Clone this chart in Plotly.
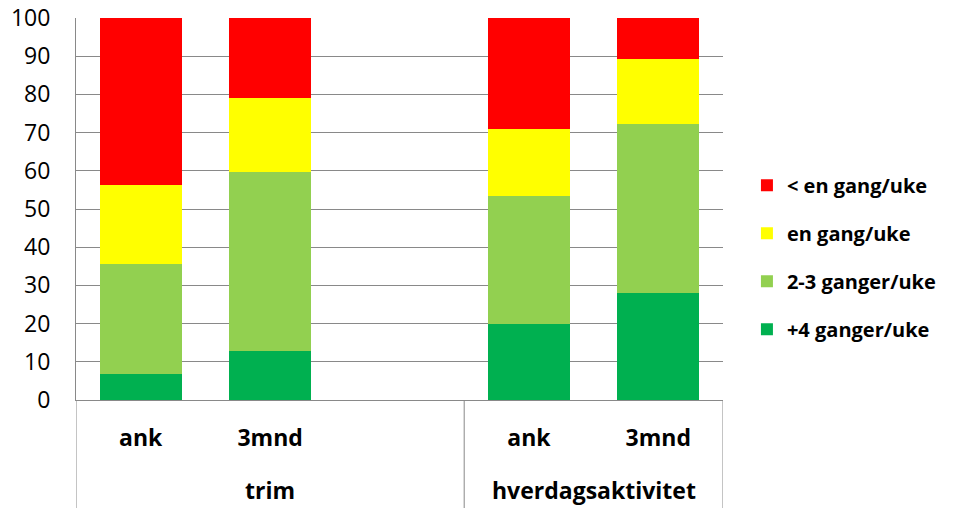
import plotly.graph_objects as go

groups = ["trim", "trim", "trim", "hverdagsaktivitet", "hverdagsaktivitet"]
times = ["ank", "3mnd", "", "ank", "3mnd"]
group_names = ["trim", "hverdagsaktivitet"]

series_names = ["+4 ganger/uke", "2-3 ganger/uke", "en gang/uke", "< en gang/uke"]
plus4 = [6.7, 12.7, None, 19.9, 27.9]
two3 = [28.9, 47.0, None, 33.6, 44.4]
once = [20.6, 19.4, None, 17.4, 17.0]
less = [43.8, 20.9, None, 29.1, 10.7]
colors = ["#00B050", "#92D050", "#FFFF00", "#FF0000"]

FONT = "Open Sans"
GRID = "#898989"
xs = list(range(len(times)))

fig = go.Figure()
n = len(series_names)
for i, (name, vals, c) in enumerate(zip(series_names, [plus4, two3, once, less], colors)):
    fig.add_trace(go.Bar(x=xs, y=vals, name=name, marker_color=c, marker_line_width=0,
                         legendgroup=name, legendrank=n - i))

# group spans derived from categories
spans = {}
for i, g in enumerate(groups):
    spans.setdefault(g, [i, i])
    spans[g][1] = i

# divider lines below the axis (left edge, group boundaries, right edge)
boundaries = sorted({spans[g][0] - 0.5 for g in group_names} | {spans[g][1] + 0.5 for g in group_names})
for b in boundaries:
    fig.add_shape(type="line", xref="x", yref="paper", x0=b, x1=b, y0=0, y1=-0.3,
                  line=dict(color=GRID, width=1))

for g in group_names:
    a, z = spans[g]
    fig.add_annotation(x=(a + z) / 2, y=-108 / 382, xref="x", yref="paper", text="<b>%s</b>" % g,
                       showarrow=False, yanchor="bottom",
                       font=dict(family=FONT, size=23, color="black"))

fig.update_layout(
    barmode="stack",
    bargap=0.366,
    width=958, height=508,
    margin=dict(l=76, r=235, t=18, b=108),
    plot_bgcolor="white", paper_bgcolor="white",
    font=dict(family=FONT, size=22, color="black"),
    legend=dict(traceorder="grouped", x=1.037, y=0.374, yanchor="middle", xanchor="left",
                font=dict(family=FONT, size=20, color="black", weight="bold"),
                tracegroupgap=19, itemclick=False),
    showlegend=True,
)
fig.update_yaxes(range=[0, 100], dtick=10, showgrid=True, gridcolor=GRID, gridwidth=1,
                 showline=True, linecolor=GRID, linewidth=1, ticks="", zeroline=False,
                 automargin=False, ticklabelstandoff=20,
                 tickfont=dict(family=FONT, size=23, color="black"))
fig.update_xaxes(range=[-0.5, len(times) - 0.5], showline=True, linecolor=GRID, linewidth=1,
                 showgrid=False, zeroline=False, ticks="", automargin=False,
                 tickvals=[i for i, t in enumerate(times) if t],
                 ticktext=["<b>%s</b>" % t for t in times if t],
                 ticklabelstandoff=17,
                 tickfont=dict(family=FONT, size=23, color="black"))

fig.write_html("out.html")
